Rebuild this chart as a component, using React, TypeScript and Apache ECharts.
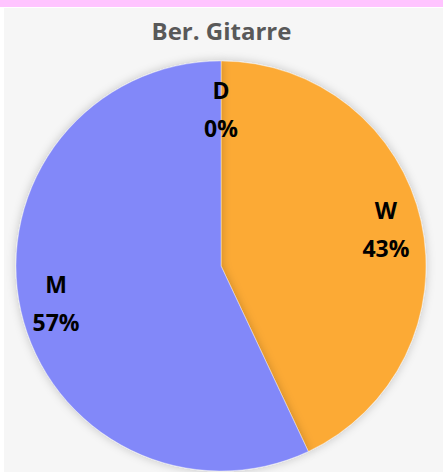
import React, { useEffect, useRef } from "react";
import * as echarts from "echarts";

const titleText = "Ber. Gitarre";
const categories = ["D", "W", "M"];
const values = [0, 43, 57];
const colors = ["#8A6FD0", "#FCAA36", "#8288F9"];

export default function App() {
  const ref = useRef<HTMLDivElement>(null);
  useEffect(() => {
    document.body.style.margin = "0";
    const chart = echarts.init(ref.current!, null, { renderer: "svg" });
    const data = categories.map((c, i) => ({
      name: c,
      value: values[i],
      itemStyle: { color: colors[i] },
    }));
    const labelData = categories.map((c, i) => ({
      name: c,
      value: values[i],
      label: values[i] === 0 ? { offset: [0, 12] } : {},
    }));
    chart.setOption({
      animation: false,
      backgroundColor: "#ffffff",
      graphic: [
        { type: "rect", shape: { x: 0, y: 0, width: 443, height: 7 }, style: { fill: "#FFC4FF" }, z: -10 },
        { type: "rect", shape: { x: 4, y: 8, width: 439, height: 464 }, style: { fill: "#F6F6F6" }, z: -10 },
      ],
      title: {
        text: titleText,
        left: "center",
        top: 13,
        textStyle: { fontFamily: "Open Sans", fontWeight: "bold", fontSize: 24, color: "#595959" },
      },
      series: [
        {
          type: "pie",
          center: [221, 266],
          radius: [0, 205],
          startAngle: 90,
          clockwise: true,
          silent: true,
          label: { show: false },
          labelLine: { show: false },
          itemStyle: {
            borderColor: "rgba(255,255,255,0.6)",
            borderWidth: 0.6,
            shadowBlur: 10,
            shadowColor: "rgba(0,0,0,0.22)",
          },
          data,
          z: 2,
        },
        {
          type: "pie",
          center: [221, 266],
          radius: [127, 205],
          startAngle: 90,
          clockwise: true,
          silent: true,
          itemStyle: { color: "transparent", borderWidth: 0 },
          label: {
            show: true,
            position: "inside",
            formatter: "{b}\n{d}%",
            fontFamily: "Open Sans",
            fontWeight: "bold",
            fontSize: 23,
            lineHeight: 38,
            color: "#000000",
          },
          labelLine: { show: false },
          data: labelData,
          z: 3,
        },
      ],
    });
    return () => chart.dispose();
  }, []);
  return <div ref={ref} style={{ width: 443, height: 472 }} />;
}
